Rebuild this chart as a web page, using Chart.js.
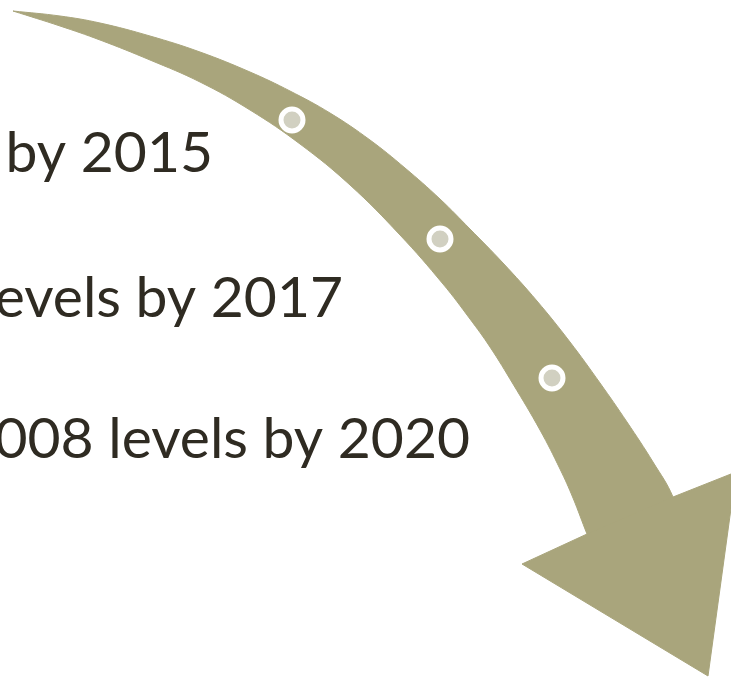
<!DOCTYPE html>
<html>
<head>
<meta charset="utf-8">
<script src="https://cdn.jsdelivr.net/npm/chart.js@4.4.1/dist/chart.umd.min.js"></script>
<style>
  html, body { margin: 0; padding: 0; background: #fff; overflow: hidden; }
  #wrap { width: 731px; height: 677px; position: relative; }
</style>
</head>
<body>
<div id="wrap"><canvas id="targetArrowChart"></canvas></div>
<script>
// curved shaft of the arrow: outer edge tip -> head, inner edge back to tip
const shaftX = [13, 60, 100, 150, 200, 250, 290, 330, 370, 405, 440, 470, 503, 537, 570, 600, 627, 653, 673,
  688, 640, 598,
  587, 573, 560, 540, 513, 490, 470, 443, 400, 350, 300, 250, 200, 150, 100, 60, 13];
const shaftY = [11, 16, 23, 36, 52, 72, 91, 113, 140, 168, 199, 229, 263, 301, 342, 383, 422, 462, 497,
  545, 575, 560,
  534, 498, 469, 430, 384, 347, 319, 284, 235, 185, 144, 110, 82, 60, 40, 26, 11];

// arrow head: right notch, right barb, point, left barb, left notch
const headX = [673, 736, 708, 522, 587];
const headY = [497, 472, 676, 564, 534];

// milestone markers on the arrow
const milestoneX = [292, 440, 552];
const milestoneY = [120, 239, 378];

// milestone texts (left part runs off the picture)
const milestoneLabels = ['by 2015', 'evels by 2017', '008 levels by 2020'];
const labelRightX = [213, 343, 470];
const labelBaselineY = [172, 317, 458];

const arrowColor = '#a9a57c';

const milestoneText = {
  id: 'milestoneText',
  afterDatasetsDraw(chart) {
    const { ctx, scales } = chart;
    ctx.save();
    ctx.fillStyle = '#2f2b22';
    ctx.font = '57px Lato, "Open Sans", sans-serif';
    ctx.textAlign = 'right';
    ctx.textBaseline = 'alphabetic';
    milestoneLabels.forEach((label, i) => {
      ctx.fillText(label, scales.x.getPixelForValue(labelRightX[i]), scales.y.getPixelForValue(labelBaselineY[i]));
    });
    ctx.restore();
  }
};

const toPoints = (xs, ys) => xs.map((x, i) => ({ x: x, y: ys[i] }));

const ctx = document.getElementById('targetArrowChart').getContext('2d');

new Chart(ctx, {
  type: 'scatter',
  data: {
    datasets: [
      {
        label: 'milestones',
        data: toPoints(milestoneX, milestoneY),
        pointRadius: 11,
        pointBorderWidth: 5,
        pointBorderColor: '#ffffff',
        pointBackgroundColor: '#d1d0c1',
        showLine: false,
        order: 1
      },
      {
        label: 'head',
        data: toPoints(headX, headY),
        showLine: true,
        tension: 0,
        fill: 'shape',
        backgroundColor: arrowColor,
        borderColor: arrowColor,
        borderWidth: 1,
        pointRadius: 0,
        order: 2
      },
      {
        label: 'shaft',
        data: toPoints(shaftX, shaftY),
        showLine: true,
        tension: 0.4,
        fill: 'shape',
        backgroundColor: arrowColor,
        borderColor: arrowColor,
        borderWidth: 1,
        pointRadius: 0,
        order: 3
      }
    ]
  },
  options: {
    responsive: true,
    maintainAspectRatio: false,
    animation: false,
    events: [],
    layout: { padding: 0, autoPadding: false },
    scales: {
      x: { type: 'linear', min: 0, max: 731, display: false },
      y: { type: 'linear', min: 0, max: 677, reverse: true, display: false }
    },
    plugins: {
      legend: { display: false },
      tooltip: { enabled: false }
    }
  },
  plugins: [milestoneText]
});
</script>
</body>
</html>
